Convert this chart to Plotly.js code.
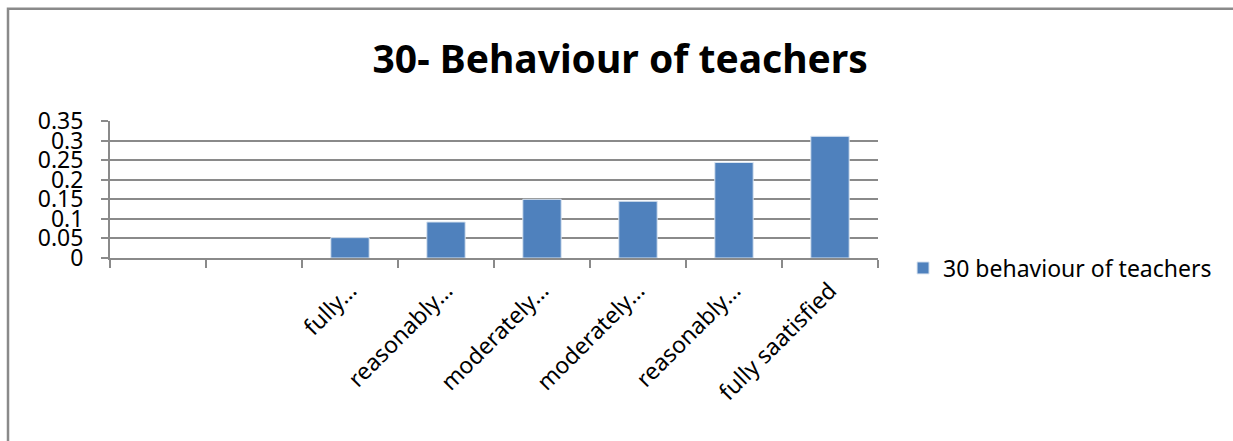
<!DOCTYPE html>
<html>
<head>
<meta charset="utf-8">
<script src="https://cdn.plot.ly/plotly-3.0.1.min.js"></script>
<style>
html,body{margin:0;padding:0;background:#fff;}
#chart{width:1233px;height:441px;}
</style>
</head>
<body>
<div id="chart"></div>
<script>
const categoryLabels = ["", "", "fully…", "reasonably…", "moderately…", "moderately…", "reasonably…", "fully saatisfied"];
const seriesName = "30 behaviour of teachers";
const seriesValues = [null, null, 0.052, 0.092, 0.15, 0.145, 0.244, 0.311];
const yTickValues = [0, 0.05, 0.1, 0.15, 0.2, 0.25, 0.3, 0.35];
const yTickLabels = ["0", "0.05", "0.1", "0.15", "0.2", "0.25", "0.3", "0.35"];
const chartTitle = "30- Behaviour of teachers";

const positions = categoryLabels.map((_, i) => i);
const FONT = "Noto Sans, Open Sans, sans-serif";
const GREY = "#8a8a8a";

const trace = {
  type: "bar",
  x: positions,
  y: seriesValues,
  name: seriesName,
  showlegend: true,
  marker: {color: "#4f81bd", line: {color: "#dbe5f1", width: 1}},
  hoverinfo: "y"
};

const layout = {
  width: 1233,
  height: 441,
  margin: {l: 110, r: 355, t: 121, b: 183, pad: 0},
  paper_bgcolor: "#ffffff",
  plot_bgcolor: "#ffffff",
  font: {family: FONT, color: "#000000"},
  title: {
    text: "<b>" + chartTitle + "</b>",
    font: {family: FONT, size: 39, color: "#000000"},
    x: 0.503, xref: "container", xanchor: "center",
    y: 0.865, yref: "container", yanchor: "middle"
  },
  bargap: 0.6,
  xaxis: {
    type: "linear",
    range: [-0.5, 7.5],
    tickmode: "array",
    tickvals: positions,
    ticktext: categoryLabels,
    tickangle: -45,
    ticks: "",
    tickfont: {family: FONT, size: 23, color: "#000000"},
    showgrid: false,
    zeroline: false,
    showline: true,
    linecolor: GREY,
    linewidth: 2,
    ticklabelstandoff: 8,
    minor: {tick0: -0.5, dtick: 1, ticks: "outside", ticklen: 8, tickwidth: 2, tickcolor: GREY, showgrid: false},
    fixedrange: true
  },
  yaxis: {
    range: [0, 0.35],
    tickmode: "array",
    tickvals: yTickValues,
    ticktext: yTickLabels,
    ticks: "outside",
    ticklen: 7,
    tickwidth: 2,
    tickcolor: GREY,
    tickfont: {family: FONT, size: 23, color: "#000000"},
    showgrid: true,
    gridcolor: GREY,
    gridwidth: 2,
    zeroline: false,
    showline: true,
    linecolor: GREY,
    linewidth: 2,
    ticklabelstandoff: 13,
    fixedrange: true
  },
  legend: {
    x: 1.0326, xanchor: "left",
    y: -0.073, yanchor: "middle",
    font: {family: FONT, size: 23, color: "#000000"},
    bgcolor: "rgba(0,0,0,0)",
    borderwidth: 0
  },
  shapes: [{
    type: "rect",
    xref: "paper", yref: "paper",
    x0: -0.1328, x1: 1.5,
    y0: -1.5, y1: 1.82,
    line: {color: GREY, width: 2.5},
    fillcolor: "rgba(0,0,0,0)",
    layer: "below"
  }]
};

Plotly.newPlot("chart", [trace], layout, {displayModeBar: false, staticPlot: true});
</script>
</body>
</html>
